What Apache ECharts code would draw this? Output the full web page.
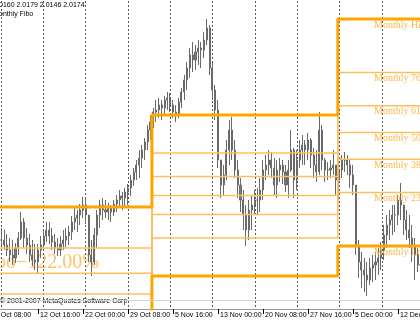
<!DOCTYPE html>
<html>
<head>
<meta charset="utf-8">
<title>Monthly Fibo</title>
<script src="https://cdn.jsdelivr.net/npm/echarts@6.0.0/dist/echarts.min.js"></script>
<style>
html, body { margin: 0; padding: 0; background: #fff; }
#main { width: 420px; height: 323px; }
</style>
</head>
<body>
<div id="main"></div>
<script>
// time axis labels, one every 16 bars of 8 hours
var timeLabels = ['5 Oct 08:00', '12 Oct 16:00', '22 Oct 00:00', '29 Oct 08:00', '5 Nov 16:00',
  '13 Nov 00:00', '20 Nov 08:00', '27 Nov 16:00', '5 Dec 00:00', '12 Dec 08:00']

// price bars (8h), first one at bar index 3
var firstBar = 3
var highs = [
  2.0360, 2.0350, 2.0330, 2.0310, 2.0300, 2.0285, 2.0340, 2.0440, 2.0410, 2.0360,
  2.0330, 2.0300, 2.0280, 2.0280, 2.0320, 2.0350, 2.0390, 2.0390, 2.0360, 2.0330,
  2.0310, 2.0320, 2.0350, 2.0360, 2.0370, 2.0420, 2.0460, 2.0450, 2.0480, 2.0515,
  2.0510, 2.0425, 2.0300, 2.0360, 2.0450, 2.0500, 2.0510, 2.0500, 2.0485, 2.0475,
  2.0500, 2.0525, 2.0550, 2.0540, 2.0560, 2.0580, 2.0625, 2.0660, 2.0700, 2.0750,
  2.0775, 2.0810, 2.0875, 2.0925, 2.0960, 2.1000, 2.1010, 2.1000, 2.1020, 2.1040,
  2.1035, 2.1000, 2.0975, 2.1010, 2.1060, 2.1125, 2.1190, 2.1260, 2.1290, 2.1275,
  2.1300, 2.1290, 2.1340, 2.1405, 2.1375, 2.1190, 2.1075, 2.1000, 2.0700, 2.0675,
  2.0800, 2.0900, 2.0915, 2.0800, 2.0700, 2.0610, 2.0550, 2.0475, 2.0500, 2.0525,
  2.0550, 2.0560, 2.0610, 2.0700, 2.0725, 2.0750, 2.0740, 2.0710, 2.0700, 2.0710,
  2.0700, 2.0675, 2.0700, 2.0850, 2.0760, 2.0750, 2.0800, 2.0825, 2.0800, 2.0835,
  2.0810, 2.0760, 2.0750, 2.0940, 2.0875, 2.0710, 2.0690, 2.0700, 2.0750, 2.0675,
  2.0700, 2.0725, 2.0740, 2.0725, 2.0700, 2.0675, 2.0575, 2.0300, 2.0240, 2.0210,
  2.0190, 2.0210, 2.0225, 2.0240, 2.0260, 2.0290, 2.0375, 2.0425, 2.0450, 2.0475,
  2.0475, 2.0525, 2.0585, 2.0475, 2.0450, 2.0425, 2.0375, 2.0310, 2.0260, 2.0250
]
var lows = [
  2.0275, 2.0250, 2.0220, 2.0190, 2.0175, 2.0185, 2.0225, 2.0300, 2.0260, 2.0230,
  2.0190, 2.0170, 2.0150, 2.0130, 2.0210, 2.0250, 2.0290, 2.0280, 2.0250, 2.0230,
  2.0220, 2.0220, 2.0250, 2.0265, 2.0275, 2.0300, 2.0350, 2.0340, 2.0375, 2.0410,
  2.0380, 2.0190, 2.0120, 2.0175, 2.0260, 2.0360, 2.0400, 2.0410, 2.0400, 2.0390,
  2.0420, 2.0440, 2.0460, 2.0450, 2.0470, 2.0475, 2.0520, 2.0570, 2.0600, 2.0610,
  2.0660, 2.0700, 2.0750, 2.0800, 2.0860, 2.0890, 2.0910, 2.0900, 2.0925, 2.0950,
  2.0940, 2.0910, 2.0890, 2.0910, 2.0960, 2.1000, 2.1050, 2.1110, 2.1140, 2.1150,
  2.1175, 2.1160, 2.1210, 2.1275, 2.1125, 2.1000, 2.0900, 2.0660, 2.0510, 2.0525,
  2.0600, 2.0675, 2.0700, 2.0610, 2.0510, 2.0440, 2.0350, 2.0270, 2.0300, 2.0350,
  2.0425, 2.0425, 2.0440, 2.0500, 2.0600, 2.0625, 2.0610, 2.0525, 2.0510, 2.0590,
  2.0580, 2.0540, 2.0510, 2.0640, 2.0510, 2.0550, 2.0660, 2.0675, 2.0675, 2.0700,
  2.0660, 2.0610, 2.0590, 2.0625, 2.0650, 2.0590, 2.0600, 2.0610, 2.0625, 2.0525,
  2.0500, 2.0610, 2.0640, 2.0625, 2.0560, 2.0525, 2.0225, 2.0110, 2.0060, 2.0040,
  2.0020, 2.0075, 2.0090, 2.0100, 2.0125, 2.0150, 2.0200, 2.0260, 2.0300, 2.0325,
  2.0340, 2.0375, 2.0400, 2.0325, 2.0300, 2.0260, 2.0190, 2.0100, 2.0140, 2.0150
]
var closes = [
  2.0300, 2.0275, 2.0250, 2.0225, 2.0210, 2.0260, 2.0310, 2.0390, 2.0310, 2.0275,
  2.0225, 2.0200, 2.0190, 2.0250, 2.0275, 2.0320, 2.0350, 2.0320, 2.0290, 2.0260,
  2.0250, 2.0280, 2.0300, 2.0320, 2.0340, 2.0390, 2.0410, 2.0425, 2.0450, 2.0475,
  2.0425, 2.0225, 2.0190, 2.0325, 2.0425, 2.0475, 2.0450, 2.0440, 2.0460, 2.0440,
  2.0480, 2.0500, 2.0520, 2.0510, 2.0540, 2.0560, 2.0600, 2.0640, 2.0675, 2.0710,
  2.0750, 2.0790, 2.0850, 2.0890, 2.0940, 2.0950, 2.0975, 2.0960, 2.1000, 2.1010,
  2.0975, 2.0940, 2.0925, 2.0990, 2.1040, 2.1100, 2.1160, 2.1225, 2.1200, 2.1240,
  2.1260, 2.1250, 2.1300, 2.1360, 2.1160, 2.1050, 2.0950, 2.0700, 2.0575, 2.0625,
  2.0750, 2.0850, 2.0750, 2.0650, 2.0575, 2.0500, 2.0425, 2.0350, 2.0450, 2.0475,
  2.0500, 2.0500, 2.0550, 2.0650, 2.0675, 2.0700, 2.0660, 2.0575, 2.0650, 2.0675,
  2.0640, 2.0575, 2.0650, 2.0750, 2.0600, 2.0700, 2.0750, 2.0775, 2.0750, 2.0800,
  2.0725, 2.0675, 2.0640, 2.0850, 2.0700, 2.0650, 2.0650, 2.0660, 2.0675, 2.0600,
  2.0650, 2.0700, 2.0700, 2.0675, 2.0625, 2.0575, 2.0275, 2.0190, 2.0150, 2.0125,
  2.0100, 2.0160, 2.0175, 2.0190, 2.0210, 2.0250, 2.0325, 2.0375, 2.0400, 2.0425,
  2.0425, 2.0500, 2.0475, 2.0400, 2.0350, 2.0310, 2.0275, 2.0225, 2.0175, 2.0175
]

// monthly fibo levels (Oct, Nov, Dec), each month uses the previous month's range
var monthStarts = [0, 56.5, 122.6]
var fiboNames = ['Monthly High', 'Monthly 76.4', 'Monthly 61.8', 'Monthly 50.0', 'Monthly 38.2', 'Monthly 23.6', 'Monthly Low']
var fiboHigh = [2.0465, 2.0925, 2.1405]
var fibo764 = [2.0260, 2.0735, 2.1137]
var fibo618 = [2.0134, 2.0618, 2.0971]
var fibo500 = [2.0030, 2.0523, 2.0838]
var fibo382 = [1.9928, 2.0428, 2.0704]
var fibo236 = [1.9801, 2.0310, 2.0538]
var fiboLow = [1.9596, 2.0120, 2.0270]
var grayLevel = 2.0020

var xMax = 151.82
var labelAt = 135.5

var candles = []
for (var k = 0; k < highs.length; k++) {
  var open = k === 0 ? closes[0] : closes[k - 1]
  candles.push([firstBar + k, open, closes[k], lows[k], highs[k]])
}

// step line for one fibo level across the months
function levelSeries(name, levels, thick) {
  var pts = []
  for (var m = 0; m < levels.length; m++) {
    var end = m + 1 < monthStarts.length ? monthStarts[m + 1] : xMax
    pts.push([monthStarts[m], levels[m]])
    pts.push([end, levels[m]])
  }
  return {
    type: 'line',
    name: name,
    data: pts,
    symbol: 'none',
    silent: true,
    z: thick ? 4 : 3,
    lineStyle: { color: thick ? '#FFA500' : '#FFBE5E', width: thick ? 3 : 1.5 },
    markPoint: {
      symbol: 'circle',
      symbolSize: 0,
      silent: true,
      label: {
        show: true,
        position: [0, 1],
        formatter: name,
        color: '#FFB445',
        fontFamily: 'Liberation Serif',
        fontSize: 10
      },
      data: [{ coord: [labelAt, levels[levels.length - 1]] }]
    }
  }
}

var myChart = echarts.init(document.getElementById('main'))
var option = {
  animation: false,
  backgroundColor: '#fff',
  grid: [
    { left: -7, right: 0, top: 1, bottom: 14, containLabel: false, outerBoundsMode: 'none' },
    { left: 1, right: 0, top: 1, bottom: 14, containLabel: false, outerBoundsMode: 'none' }
  ],
  xAxis: [
    {
      type: 'value',
      gridIndex: 0,
      min: 0,
      max: xMax,
      interval: 16,
      axisLine: { show: false },
      axisTick: { show: true, length: 5, lineStyle: { color: '#000' } },
      splitLine: { show: false },
      axisLabel: {
        show: true,
        margin: 3,
        align: 'left',
        padding: [0, 0, 0, 2],
        color: '#000',
        fontFamily: 'Liberation Sans',
        fontSize: 7,
        showMaxLabel: false,
        formatter: function (v) {
          var k = v / 16
          return Number.isInteger(k) && timeLabels[k] ? timeLabels[k] : ''
        }
      }
    },
    {
      // dotted vertical grid and the top border
      type: 'value',
      gridIndex: 1,
      position: 'top',
      min: 0,
      max: 148.5,
      interval: 15,
      axisLine: { show: true, lineStyle: { color: '#9a9a9a', width: 1 } },
      axisTick: { show: false },
      axisLabel: { show: false },
      splitLine: { show: true, lineStyle: { color: '#555', type: [2, 2], width: 1 } }
    }
  ],
  yAxis: [
    { type: 'value', gridIndex: 0, min: 1.9955, max: 2.1495, show: false },
    { type: 'value', gridIndex: 1, min: 0, max: 1, show: false }
  ],
  graphic: [
    { type: 'text', left: -1, top: 2, silent: true,
      style: { text: '0160 2.0179 2.0146 2.0174', fill: '#000', font: '7px "Liberation Sans"' } },
    { type: 'text', left: -1, top: 11, silent: true,
      style: { text: 'onthly Fibo', fill: '#000', font: '7px "Liberation Sans"' } },
    { type: 'text', left: -4, top: 253, silent: true,
      style: { text: 'oo\u2212122.00%', fill: '#FFC26A', font: '20px "Liberation Serif"' } },
    { type: 'text', left: 0, top: 298, silent: true,
      style: { text: '\u00a9 2001-2007 MetaQuotes Software Corp.', fill: '#000', font: '7px "Liberation Sans"' } }
  ],
  series: [
    {
      type: 'candlestick',
      xAxisIndex: 0,
      yAxisIndex: 0,
      data: candles,
      encode: { x: 0, y: [1, 2, 3, 4] },
      barWidth: 1.6,
      silent: true,
      z: 2,
      itemStyle: {
        color: '#7c7c7c',
        color0: '#7c7c7c',
        borderColor: '#6a6a6a',
        borderColor0: '#6a6a6a',
        borderWidth: 1
      },
      markLine: {
        symbol: 'none',
        silent: true,
        label: { show: false },
        lineStyle: { color: '#d4d4d4', type: 'solid', width: 1 },
        data: [{ yAxis: grayLevel }]
      }
    },
    levelSeries(fiboNames[0], fiboHigh, true),
    levelSeries(fiboNames[1], fibo764, false),
    levelSeries(fiboNames[2], fibo618, false),
    levelSeries(fiboNames[3], fibo500, false),
    levelSeries(fiboNames[4], fibo382, false),
    levelSeries(fiboNames[5], fibo236, false),
    levelSeries(fiboNames[6], fiboLow, true)
  ]
}
myChart.setOption(option)
</script>
</body>
</html>
